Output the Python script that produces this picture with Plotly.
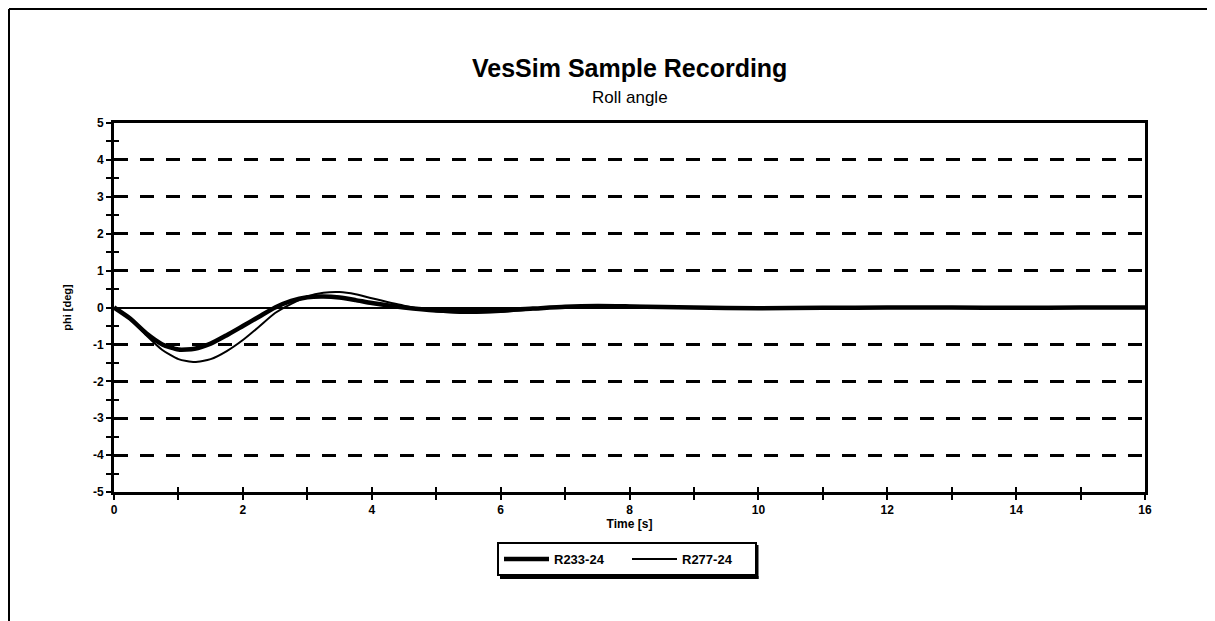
import plotly.graph_objects as go

time_s = [0, 0.25, 0.5, 0.75, 1.0, 1.25, 1.5, 1.75, 2.0, 2.25, 2.5, 2.75, 3.0, 3.25, 3.5,
          3.75, 4.0, 4.5, 5.0, 5.5, 6.0, 6.5, 7.0, 7.5, 8.0, 9, 10, 11, 12, 13, 14, 15, 16]
r233_24 = [0, -0.3, -0.7, -1.0, -1.14, -1.12, -0.98, -0.75, -0.5, -0.25, 0.0, 0.18, 0.28, 0.3,
           0.27, 0.2, 0.12, 0.0, -0.08, -0.1, -0.08, -0.03, 0.02, 0.04, 0.03, 0.0, -0.02, -0.01,
           0.0, 0.0, -0.01, 0.0, 0.0]
r277_24 = [0, -0.3, -0.75, -1.15, -1.4, -1.48, -1.4, -1.18, -0.88, -0.52, -0.15, 0.1, 0.3, 0.4,
           0.42, 0.36, 0.25, 0.05, -0.1, -0.15, -0.12, -0.05, 0.02, 0.06, 0.05, 0.0, -0.03, -0.01,
           0.01, 0.0, -0.01, 0.0, 0.0]
x_ticks = [0, 2, 4, 6, 8, 10, 12, 14, 16]
x_minor = [1, 3, 5, 7, 9, 11, 13, 15]
y_ticks = [-5, -4, -3, -2, -1, 0, 1, 2, 3, 4, 5]
y_ticklabels = ["-5", "-4", "-3", "-2", "-1", "0", "1", "2", "3", "4", "5"]
y_minor = [-4.5, -3.5, -2.5, -1.5, -0.5, 0.5, 1.5, 2.5, 3.5, 4.5]

FONT = "Liberation Sans, Arial, sans-serif"

# page has an 8px body margin; figure coords = window coords - 8
L, R, T, B = 106, 1137, 115, 484
W, H = 1215, 621

fig = go.Figure()
fig.add_trace(go.Scatter(x=time_s, y=r233_24, mode="lines", name="R233-24",
                         line=dict(color="black", width=4.5, shape="spline", smoothing=0.6)))
fig.add_trace(go.Scatter(x=time_s, y=r277_24, mode="lines", name="R277-24",
                         line=dict(color="black", width=2, shape="spline", smoothing=0.6)))
fig.add_trace(go.Scatter(x=[0], y=[0], xaxis="x2", yaxis="y2", mode="markers",
                         marker=dict(opacity=0), showlegend=False, hoverinfo="skip"))


def px_x(xw):
    return (xw - 8 - L) / (R - L)


def px_y(yw):
    return (B - (yw - 8)) / (B - T)


fig.update_layout(
    width=W, height=H,
    margin=dict(l=L, r=W - R, t=T, b=H - B),
    paper_bgcolor="white", plot_bgcolor="white",
    font=dict(family=FONT, color="black"),
    showlegend=True,
    legend=dict(orientation="h", x=px_x(497), xanchor="left",
                y=px_y(542), yanchor="top",
                bordercolor="black", borderwidth=2, bgcolor="white",
                font=dict(family=FONT, size=13, color="black", weight="bold"),
                itemwidth=45, entrywidth=68, entrywidthmode="pixels", tracegroupgap=0),
    xaxis=dict(range=[0, 16], tickvals=x_ticks,
               ticks="outside", ticklen=5, tickwidth=2, tickcolor="black",
               minor=dict(tickvals=x_minor, ticks="outside",
                          ticklen=5, tickwidth=2, tickcolor="black"),
               showline=True, linecolor="black", linewidth=3, mirror=True,
               showgrid=False, zeroline=False,
               tickfont=dict(family=FONT, size=12, weight="bold"),
               title=dict(text="Time [s]", standoff=3,
                          font=dict(family=FONT, size=12, weight="bold"))),
    yaxis=dict(range=[-5, 5], tickvals=y_ticks, ticktext=y_ticklabels,
               ticks="outside", ticklen=5, tickwidth=2, tickcolor="black",
               minor=dict(tickvals=y_minor, ticks="outside", ticklen=5, tickwidth=2,
                          tickcolor="black", showgrid=False),
               showline=True, linecolor="black", linewidth=3, mirror=True,
               showgrid=True, gridcolor="black", gridwidth=3, griddash="14px,12px",
               zeroline=True, zerolinecolor="black", zerolinewidth=2,
               tickfont=dict(family=FONT, size=12, weight="bold"),
               title=dict(text="phi [deg]", standoff=20,
                          font=dict(family=FONT, size=11, weight="bold"))),
    xaxis2=dict(overlaying="x", range=[0, 16], side="bottom", anchor="y2",
                tickvals=x_ticks, ticks="inside", ticklen=5,
                tickwidth=2, tickcolor="black", showticklabels=False, showgrid=False,
                zeroline=False, showline=False,
                minor=dict(tickvals=x_minor, ticks="inside",
                           ticklen=5, tickwidth=2, tickcolor="black")),
    yaxis2=dict(overlaying="y", range=[-5, 5], side="left", anchor="x2",
                tickvals=y_ticks, ticks="inside", ticklen=5,
                tickwidth=2, tickcolor="black", showticklabels=False, showgrid=False,
                zeroline=False, showline=False,
                minor=dict(tickvals=y_minor, ticks="inside", ticklen=5, tickwidth=2,
                           tickcolor="black")),
)

fig.add_annotation(text="<b>VesSim Sample Recording</b>", xref="paper", yref="paper",
                   x=0.5, y=px_y(68), xanchor="center", yanchor="middle",
                   showarrow=False, font=dict(family=FONT, size=25, color="black"))
fig.add_annotation(text="Roll angle", xref="paper", yref="paper",
                   x=0.5, y=px_y(97), xanchor="center", yanchor="middle",
                   showarrow=False, font=dict(family=FONT, size=17, color="black"))

# legend drop shadow (right and bottom)
fig.add_shape(type="line", xref="paper", yref="paper",
              x0=px_x(757), x1=px_x(757), y0=px_y(545), y1=px_y(579),
              line=dict(color="black", width=3))
fig.add_shape(type="line", xref="paper", yref="paper",
              x0=px_x(500), x1=px_x(758.5), y0=px_y(577.5), y1=px_y(577.5),
              line=dict(color="black", width=3))

# outer frame (top and left edges)
fig.add_shape(type="line", xref="paper", yref="paper",
              x0=px_x(9), x1=px_x(1240), y0=px_y(9), y1=px_y(9),
              line=dict(color="black", width=2))
fig.add_shape(type="line", xref="paper", yref="paper",
              x0=px_x(9), x1=px_x(9), y0=px_y(9), y1=px_y(660),
              line=dict(color="black", width=2))

fig.write_html("out.html")
